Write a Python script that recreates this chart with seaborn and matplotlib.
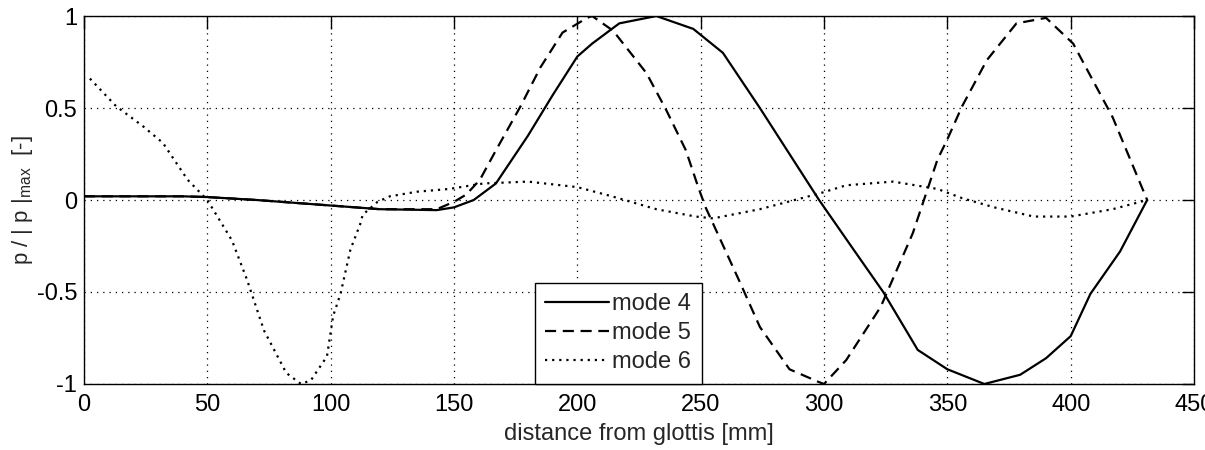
import numpy as np
import pandas as pd
import matplotlib
matplotlib.use("Agg")
import matplotlib.pyplot as plt
import seaborn as sns

# values
mode4_x = [0, 20, 40, 50, 70, 100, 120, 143, 150, 158, 167, 180, 190, 200, 206, 217, 232,
           247, 259, 274, 286, 298, 312, 324, 338, 350, 365, 379.5, 390, 400, 408, 420, 431]
mode4_y = [0.02, 0.02, 0.02, 0.016, 0.0, -0.03, -0.05, -0.055, -0.04, 0.0, 0.09, 0.35, 0.57,
           0.78, 0.85, 0.96, 1.0, 0.93, 0.8, 0.5, 0.25, 0.0, -0.27, -0.5, -0.815, -0.92,
           -1.0, -0.95, -0.86, -0.74, -0.51, -0.28, 0.0]

mode5_x = [0, 20, 40, 50, 70, 100, 120, 143, 150, 155, 160.5, 167, 177, 185, 194, 204, 206,
           214.5, 228, 236, 244, 249, 252, 266, 274, 286, 298, 300, 309, 323, 336, 346,
           350, 356, 366, 378, 390, 401, 417, 431]
mode5_y = [0.02, 0.02, 0.02, 0.016, 0.0, -0.03, -0.05, -0.05, -0.01, 0.03, 0.11, 0.27, 0.51,
           0.72, 0.91, 0.99, 1.0, 0.92, 0.69, 0.49, 0.27, 0.07, -0.04, -0.45, -0.69, -0.92,
           -0.99, -1.0, -0.87, -0.58, -0.18, 0.22, 0.33, 0.51, 0.76, 0.96, 0.99, 0.85, 0.45,
           0.0]

mode6_x = [2.4, 13, 24, 32, 42, 50, 60, 66, 73, 82, 88, 92, 98.5, 101, 104, 108, 112, 113,
           119, 124, 135, 148, 162, 180, 200, 214, 232, 248, 255, 274, 298, 309, 328, 346,
           356, 369, 385, 400, 417, 431]
mode6_y = [0.66, 0.51, 0.40, 0.31, 0.11, 0.0, -0.22, -0.43, -0.71, -0.94, -1.0, -0.98,
           -0.85, -0.63, -0.51, -0.27, -0.13, -0.08, -0.01, 0.02, 0.045, 0.06, 0.09, 0.1,
           0.07, 0.02, -0.05, -0.09, -0.1, -0.05, 0.035, 0.08, 0.1, 0.06, 0.01, -0.04,
           -0.09, -0.09, -0.05, 0.0]

x_ticks = [0, 50, 100, 150, 200, 250, 300, 350, 400, 450]
y_ticks = [-1, -0.5, 0, 0.5, 1]
y_tick_labels = ["-1", "-0.5", "0", "0.5", "1"]

df = pd.concat([
    pd.DataFrame({"x": mode4_x, "y": mode4_y, "mode": "mode 4"}),
    pd.DataFrame({"x": mode5_x, "y": mode5_y, "mode": "mode 5"}),
    pd.DataFrame({"x": mode6_x, "y": mode6_y, "mode": "mode 6"}),
], ignore_index=True)

sns.set_style("white")
plt.rcParams["font.family"] = ["Liberation Sans", "DejaVu Sans"]
plt.rcParams["mathtext.default"] = "regular"

fig = plt.figure(figsize=(12.05, 4.5), dpi=100)
ax = fig.add_axes([0.0697, 0.1467, 0.9212, 0.8177])

sns.lineplot(data=df, x="x", y="y", style="mode", sort=False, estimator=None,
             color="black", linewidth=1.6,
             dashes={"mode 4": "", "mode 5": (5, 3), "mode 6": (1, 2.2)},
             ax=ax)

ax.set_xlim(0, 450)
ax.set_ylim(-1, 1)
ax.set_xticks(x_ticks)
ax.set_yticks(y_ticks)
ax.set_yticklabels(y_tick_labels)
ax.grid(True, color="black", linestyle=(0, (1, 4)), linewidth=0.9)
ax.tick_params(direction="in", length=9, width=1, top=True, right=True,
               labelsize=17, colors="black", pad=5)
ax.tick_params(axis="x", pad=7)
for s in ax.spines.values():
    s.set_color("black")
    s.set_linewidth(1.0)

ax.set_xlabel("distance from glottis [mm]", fontsize=17, labelpad=5)
ax.set_ylabel("p / | p |$_{max}$  [-]", fontsize=16, labelpad=1)

leg = ax.legend(loc="lower left", bbox_to_anchor=(0.406, 0.0), borderaxespad=0,
                fancybox=False, edgecolor="black", framealpha=1, fontsize=17,
                handlelength=2.7, handletextpad=0.12, labelspacing=0.3,
                borderpad=0.45)
leg.get_frame().set_linewidth(1.0)

fig.savefig("out.png", dpi=100)
